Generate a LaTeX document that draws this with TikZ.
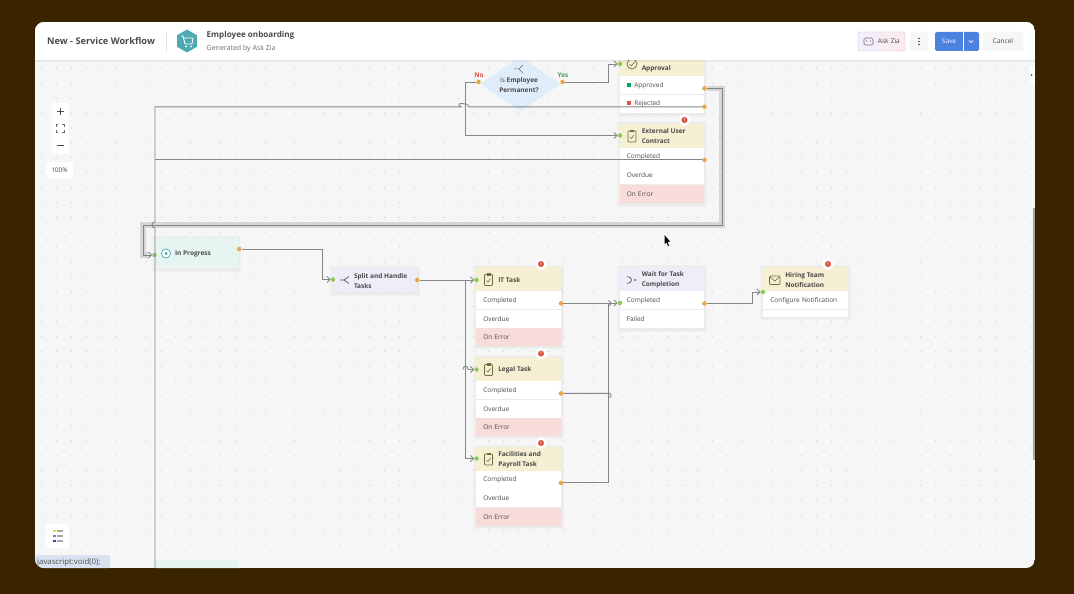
\documentclass[tikz,border=0pt]{standalone}
\usepackage{fontspec}
\setmainfont{Open Sans}
\usetikzlibrary{positioning,arrows.meta,shapes.geometric}

\definecolor{shellbrown}{HTML}{3A2400}
\definecolor{canvasgrey}{HTML}{F6F6F6}
\definecolor{griddot}{HTML}{CDCDCD}
\definecolor{flowgrey}{HTML}{868686}
\definecolor{glowgrey}{HTML}{D6D6D6}
\definecolor{inkgrey}{HTML}{4A4A4A}
\definecolor{softgrey}{HTML}{6E6E6E}
\definecolor{taskyellow}{HTML}{F6EFD3}
\definecolor{errorpink}{HTML}{F8DCDA}
\definecolor{waitlilac}{HTML}{EFEDF7}
\definecolor{statusteal}{HTML}{E7F5F2}
\definecolor{decisionblue}{HTML}{DFEDFB}
\definecolor{inputgreen}{HTML}{8FC75A}
\definecolor{outputorange}{HTML}{E9A645}
\definecolor{flagred}{HTML}{D9533F}
\definecolor{yesgreen}{HTML}{4E9A5B}
\definecolor{hexteal}{HTML}{4FA9B3}
\definecolor{saveblue}{HTML}{4C82DF}
\definecolor{tipblue}{HTML}{D9E2F3}

\begin{document}
\begin{tikzpicture}[x=1pt, y=-1pt,
    flow/.style={draw=flowgrey, line width=.9pt, -{Straight Barb[length=3pt,width=6pt]}},
    flowline/.style={draw=flowgrey, line width=.9pt},
    flowglow/.style={draw=glowgrey, line width=5.5pt},
    basetext/.style={font=\fontsize{6.5}{10}\selectfont, text=inkgrey},
    taskhead/.style={fill=taskyellow, minimum width=84.5pt, minimum height=24pt, inner sep=0pt},
    lilachead/.style={taskhead, fill=waitlilac},
    headtext/.style={anchor=west, align=left, xshift=22pt, yshift=-1pt, inner sep=0pt,
        font=\fontsize{6.5}{10}\selectfont\bfseries, text=inkgrey},
    rowbox/.style={basetext, fill=white, minimum width=84.5pt, minimum height=18pt,
        text width=70.5pt, inner xsep=7pt, inner ysep=0pt, align=left},
    markrow/.style={rowbox, text width=55.5pt, inner xsep=14.5pt},
    errorrow/.style={rowbox, fill=errorpink},
    inport/.style={circle, fill=inputgreen, inner sep=0pt, minimum size=4.5pt},
    outport/.style={circle, fill=outputorange, inner sep=0pt, minimum size=4.5pt, yshift=-3pt},
    badge/.style={circle, fill=flagred, draw=white, line width=2.5pt, inner sep=0pt, minimum size=9pt,
        text=white, font=\fontsize{4}{4}\selectfont\bfseries},
    toolbtn/.style={fill=white, rounded corners=2pt, inner sep=0pt},
    clipicon/.pic={
        \draw[inkgrey!80!yellow, line width=.7pt, rounded corners=.8pt] (-4,-5) rectangle (4,6);
        \fill[inkgrey!80!yellow] (-2,-6.5) rectangle (2,-4);
        \draw[inkgrey!80!yellow, line width=.6pt] (-2,1) -- (-.5,2.5) -- (2,-1);
    }]

\useasboundingbox (0,0) rectangle (1074,594);
\fill[shellbrown] (0,0) rectangle (1074,594);

\begin{scope}
\clip[rounded corners=9pt] (35,22) rectangle (1035,568);
\fill[canvasgrey] (35,22) rectangle (1035,568);

% dotted grid
\foreach \dx in {0,...,67}
    \foreach \dy in {0,...,34}
        \fill[griddot] (41.7+14.9*\dx,68.3+14.9*\dy) circle (.6pt);

% soft shadows behind the cards
\foreach \xa/\ya/\xb/\yb in {620/45/704/113, 620/123/704/203, 155/238/238/268, 333/268/417/292,
        476/267/561/345, 476/357/561/435, 476/447/561/525, 620/267/704/328, 763/267/848/316} {
    \fill[black, opacity=.018] (\xa-3,\ya-2) rectangle (\xb+3,\yb+4);
    \fill[black, opacity=.025] (\xa-1.5,\ya-1) rectangle (\xb+1.5,\yb+2.5);
}

% decision
\node[diamond, fill=decisionblue, inner sep=0pt, minimum width=80pt, minimum height=55pt] (isperm) at (520.5,84) {};
\node[basetext, align=center] (ispermtext) at (519,85) {Is \textbf{Employee}\\\textbf{Permanent?}};
\draw[softgrey, line width=.5pt] (514,69) -- (519,69) -- (523,65) (519,69) -- (523,73);
\node[inport, fill=outputorange] (isno) at (478.5,82) {};
\node[inport, fill=outputorange] (isyes) at (562.5,82) {};
\node[font=\fontsize{6.5}{8}\selectfont\bfseries, text=flagred] (nolabel) at (479,75) {No};
\node[font=\fontsize{6.5}{8}\selectfont\bfseries, text=yesgreen] (yeslabel) at (563,75) {Yes};

% approval card
\node[taskhead, minimum height=31pt] (apprhead) at (662,60.5) {};
\node[headtext] (apprtext) at (apprhead.west) [yshift=-7.5pt] {Approval};
\node[markrow, below=0pt of apprhead] (approk) {Approved};
\node[markrow, below=0pt of approk] (apprrej) {Rejected};
\fill[teal!70!green] (626.5,83) rectangle (630.5,87);
\fill[flagred] (626.5,101) rectangle (630.5,105);
\draw[inkgrey!80!yellow, line width=.7pt] (632,64) circle (5pt);
\draw[inkgrey!80!yellow, line width=.6pt] (629.5,64) -- (631.5,66) -- (634.5,62);

% external contract card
\node[taskhead] (exthead) at (662,135.5) {};
\node[headtext] (exttext) at (exthead.west) {External User\\Contract};
\pic at (632,136) {clipicon};
\node[rowbox, below=0pt of exthead] (extdone) {Completed};
\node[rowbox, below=0pt of extdone] (extlate) {Overdue};
\node[errorrow, below=0pt of extlate] (exterr) {On Error};

% status and split
\node[fill=statusteal, minimum width=84pt, minimum height=30pt, inner sep=0pt] (progress) at (197,253) {};
\node[headtext, xshift=-2pt] (progtext) at (progress.west) {In Progress};
\draw[hexteal, line width=.7pt, fill=white] (166,253.5) circle (4.5pt);
\fill[hexteal] (166,253.5) circle (1.6pt);
\node[lilachead, minimum width=84pt] (split) at (375,280) {};
\node[headtext] (splittext) at (split.west) [xshift=-1pt] {Split and Handle\\Tasks};
\draw[inkgrey, line width=.6pt] (340,280) -- (344,280) -- (349,276.5) (344,280) -- (349,283.5);

% task cards
\node[taskhead] (ithead) at (518.5,279) {};
\node[headtext] (ittext) at (ithead.west) {IT Task};
\pic at (488.5,279.5) {clipicon};
\node[rowbox, below=0pt of ithead] (itdone) {Completed};
\node[rowbox, below=0pt of itdone] (itlate) {Overdue};
\node[errorrow, below=0pt of itlate] (iterr) {On Error};

\node[taskhead] (leghead) at (518.5,369) {};
\node[headtext] (legtext) at (leghead.west) {Legal Task};
\pic at (488.5,369.5) {clipicon};
\node[rowbox, below=0pt of leghead] (legdone) {Completed};
\node[rowbox, below=0pt of legdone] (leglate) {Overdue};
\node[errorrow, below=0pt of leglate] (legerr) {On Error};

\node[taskhead] (fachead) at (518.5,458.5) {};
\node[headtext] (factext) at (fachead.west) {Facilities and\\Payroll Task};
\pic at (488.5,459) {clipicon};
\node[rowbox, below=0pt of fachead] (facdone) {Completed};
\node[rowbox, below=0pt of facdone] (faclate) {Overdue};
\node[errorrow, below=0pt of faclate] (facerr) {On Error};

% wait card
\node[lilachead] (waithead) at (662,279) {};
\node[headtext] (waittext) at (waithead.west) {Wait for Task\\Completion};
\draw[inkgrey, line width=.6pt] (627,276.5) .. controls (633,276.5) and (633,283.5) .. (627,283.5);
\fill[inkgrey] (635,280) circle (1pt);
\node[rowbox, below=0pt of waithead] (waitdone) {Completed};
\node[rowbox, below=0pt of waitdone] (waitfail) {Failed};

% notification card
\node[taskhead] (hirehead) at (805.5,279) {};
\node[headtext] (hiretext) at (hirehead.west) {Hiring Team\\Notification};
\draw[inkgrey!80!yellow, line width=.7pt, rounded corners=1pt] (769.5,276) rectangle (780,284.5);
\draw[inkgrey!80!yellow, line width=.6pt] (770,277) -- (774.8,281) -- (779.5,277);
\node[rowbox, below=0pt of hirehead] (hirerow) {Configure Notification};
\node[rowbox, minimum height=7pt, below=-.1pt of hirerow] (hirepad) {};

% card cut off at the lower edge
\node[fill=statusteal, minimum width=84pt, minimum height=20pt, inner sep=0pt] (lowercard) at (197,570) {};

% ports
\node[inport] (apprin) at (620,64) {};
\node[outport] (apprgo) at (approk.east) {};
\node[outport] (apprstop) at (apprrej.east) {};
\node[inport] (extin) at (620,135.5) {};
\node[outport] (extgo) at (extdone.east) {};
\node[inport] (progin) at (154.5,255) {};
\node[outport, yshift=3pt] (progout) at (progress.east|-0,249) {};
\node[inport] (splitin) at (333,279.5) {};
\node[outport, yshift=3pt] (splitout) at (split.east) {};
\node[inport] (itin) at (476.5,280) {};
\node[outport] (itout) at (itdone.east) {};
\node[inport] (legin) at (476.5,369.5) {};
\node[outport] (legout) at (legdone.east) {};
\node[inport] (facin) at (476.5,458.5) {};
\node[outport] (facout) at (facdone.east) {};
\node[inport] (waitin) at (620,303) {};
\node[outport] (waitout) at (waitdone.east) {};
\node[inport] (hirein) at (763,292) {};
\coordinate (offpage) at (155,580);
\coordinate (waitjoin) at (612,303);
\coordinate (legbend) at (606,393);
\coordinate (rejbump) at (469,106);

% connectors
\path[flowglow] (apprgo) -| (722,225) -- (143,225) -- (143,255) -- (148,255);
\draw[flow] (apprgo) -| (722,225) -- (143,225) |- (progin);
\draw[flowline] (apprstop) -- (apprstop-|rejbump) .. controls +(-1,-4.5) and +(-7,-4.5) .. ++(-8,0) -- (apprstop-|offpage)
    -- (155,222) .. controls (151,222) and (151,228) .. (155,228) -- (offpage);
\draw[flowline] (extgo) -- (extgo-|offpage);
\draw[flow] (isyes) -| (608,64) -- (apprin);
\draw[flow] (isno) -| (465,135.5) -- (extin);
\draw[flow] (progout) -| (322,279.5) -- (splitin);
\draw[flow] (splitout) -- (itin);
\draw[flow] (465,280) -- (465,458.5) -- (facin);
\draw[flow] (463,369.5) .. controls (463,365) and (468,365) .. (468,369.5) -- (legin);
\draw[flow] (itout) -- (itout-|waitjoin);
\draw[flow] (facout) -| (608,303) -- (waitin);
\draw[flowline] (legout) -- (legout-|legbend) .. controls +(4.5,-2.5) and +(5,1) .. +(2.5,4);
\draw[flow] (waitout) -| (752,292) -- (hirein);

% flags
\node[badge] (extflag) at (684.5,120) {!};
\node[badge] (itflag) at (541,264) {!};
\node[badge] (legflag) at (541,353.5) {!};
\node[badge] (facflag) at (541,443) {!};
\node[badge] (hireflag) at (828,264) {!};

% zoom controls
\node[toolbtn, minimum width=17pt, minimum height=51pt] (zoombox) at (60,128) {};
\draw[inkgrey, line width=.9pt] (56.5,111) -- (63.5,111) (60,107.5) -- (60,114.5);
\draw[softgrey, line width=.7pt] (56,126.5) -- (56,124.5) -- (58,124.5) (62,124.5) -- (64,124.5) -- (64,126.5)
    (56,130) -- (56,132) -- (58,132) (62,132) -- (64,132) -- (64,130);
\draw[inkgrey, line width=.9pt] (56.5,145.5) -- (63.5,145.5);
\node[toolbtn, basetext, minimum width=27pt, minimum height=16pt] (zoomlevel) at (59.5,170) {100\%};

% lower left
\node[toolbtn, minimum width=23pt, minimum height=24pt] (legendbtn) at (57.5,536) {};
\foreach \ly/\lc in {531/yellow!80!orange, 536/gray, 541/blue!55!gray} {
    \fill[\lc] (53,\ly-1.2) rectangle (56,\ly+1.2);
    \fill[gray!70] (57,\ly-1.2) rectangle (62.5,\ly+1.2);
}
\node[anchor=west, fill=tipblue, inner xsep=2pt, inner ysep=1pt, minimum height=14pt, text width=71pt, align=left,
    rounded corners=2pt, font=\fontsize{7.8}{9}\selectfont, text=inkgrey] (statustip) at (35,562) {javascript:void(0);};

% scroll bar and side tab
\fill[gray!70] (1032.5,208) rectangle (1035,460);
\fill[white] (1030,66) rectangle (1035,84);
\fill[softgrey] (1031.5,75) circle (1.2pt);

% title bar
\fill[white] (35,22) rectangle (1035,60.5);
\fill[black, opacity=.05] (35,60.5) rectangle (1035,62);
\node[anchor=west, inner sep=0pt, font=\fontsize{9.2}{11}\selectfont\bfseries, text=inkgrey] (flowtitle) at (47,41.5) {New - Service Workflow};
\draw[gray!25, line width=.6pt] (166,32) -- (166,52);
\node[regular polygon, regular polygon sides=6, shape border rotate=30, fill=hexteal, inner sep=0pt, minimum size=23pt] (hexlogo) at (187,41) {};
\draw[white, line width=.9pt, line join=round] (181,36) -- (183,36) -- (185,44) -- (192,44) -- (193,38) -- (183.5,38);
\fill[white] (186,46.5) circle (1pt) (191,46.5) circle (1pt);
\node[anchor=west, inner sep=0pt, font=\fontsize{8.1}{10}\selectfont\bfseries, text=inkgrey] (flowname) at (206.5,35.5) {Employee onboarding};
\node[anchor=west, inner sep=0pt, font=\fontsize{7}{9}\selectfont, text=softgrey] (flowsource) at (206.5,48.5) {Generated by Ask Zia};

\node[draw=blue!20!gray!40, left color=blue!6, right color=red!8, rounded corners=2pt, minimum width=47pt, minimum height=19pt,
    inner sep=0pt, font=\fontsize{6.5}{8}\selectfont, text=inkgrey, text width=36.5pt, align=right] (askzia) at (881.5,41.5) {Ask Zia};
\draw[softgrey, line width=.6pt, rounded corners=1.5pt] (864,38) rectangle (873,45);
\fill[softgrey] (866.5,41) circle (.7pt) (870.5,41) circle (.7pt);
\node[fill=canvasgrey, rounded corners=2pt, minimum width=18pt, minimum height=19pt, inner sep=0pt] (morebtn) at (919,41.5) {};
\fill[inkgrey] (919,38.5) circle (.8pt) (919,41.5) circle (.8pt) (919,44.5) circle (.8pt);
\node[fill=saveblue, rounded corners=2pt, minimum width=44pt, minimum height=19pt, inner sep=0pt] (savebtn) at (957,41.5) {};
\node[text=white, inner sep=0pt, font=\fontsize{6.5}{8}\selectfont] (savetext) at (949,41.5) {Save};
\draw[white, line width=.4pt] (963.5,32) -- (963.5,51);
\draw[white, line width=.7pt] (969,40.5) -- (971,42.5) -- (973,40.5);
\node[fill=canvasgrey, rounded corners=2pt, minimum width=40pt, minimum height=19pt, inner sep=0pt, text=inkgrey,
    font=\fontsize{6.5}{8}\selectfont] (cancelbtn) at (1003,41.5) {Cancel};
\end{scope}

% pointer
\fill[black] (664.5,235) -- (664.5,244) -- (666.5,242.5) -- (668,246) -- (669,245.5) -- (667.7,242) -- (670,241.5) -- cycle;
\end{tikzpicture}
\end{document}
